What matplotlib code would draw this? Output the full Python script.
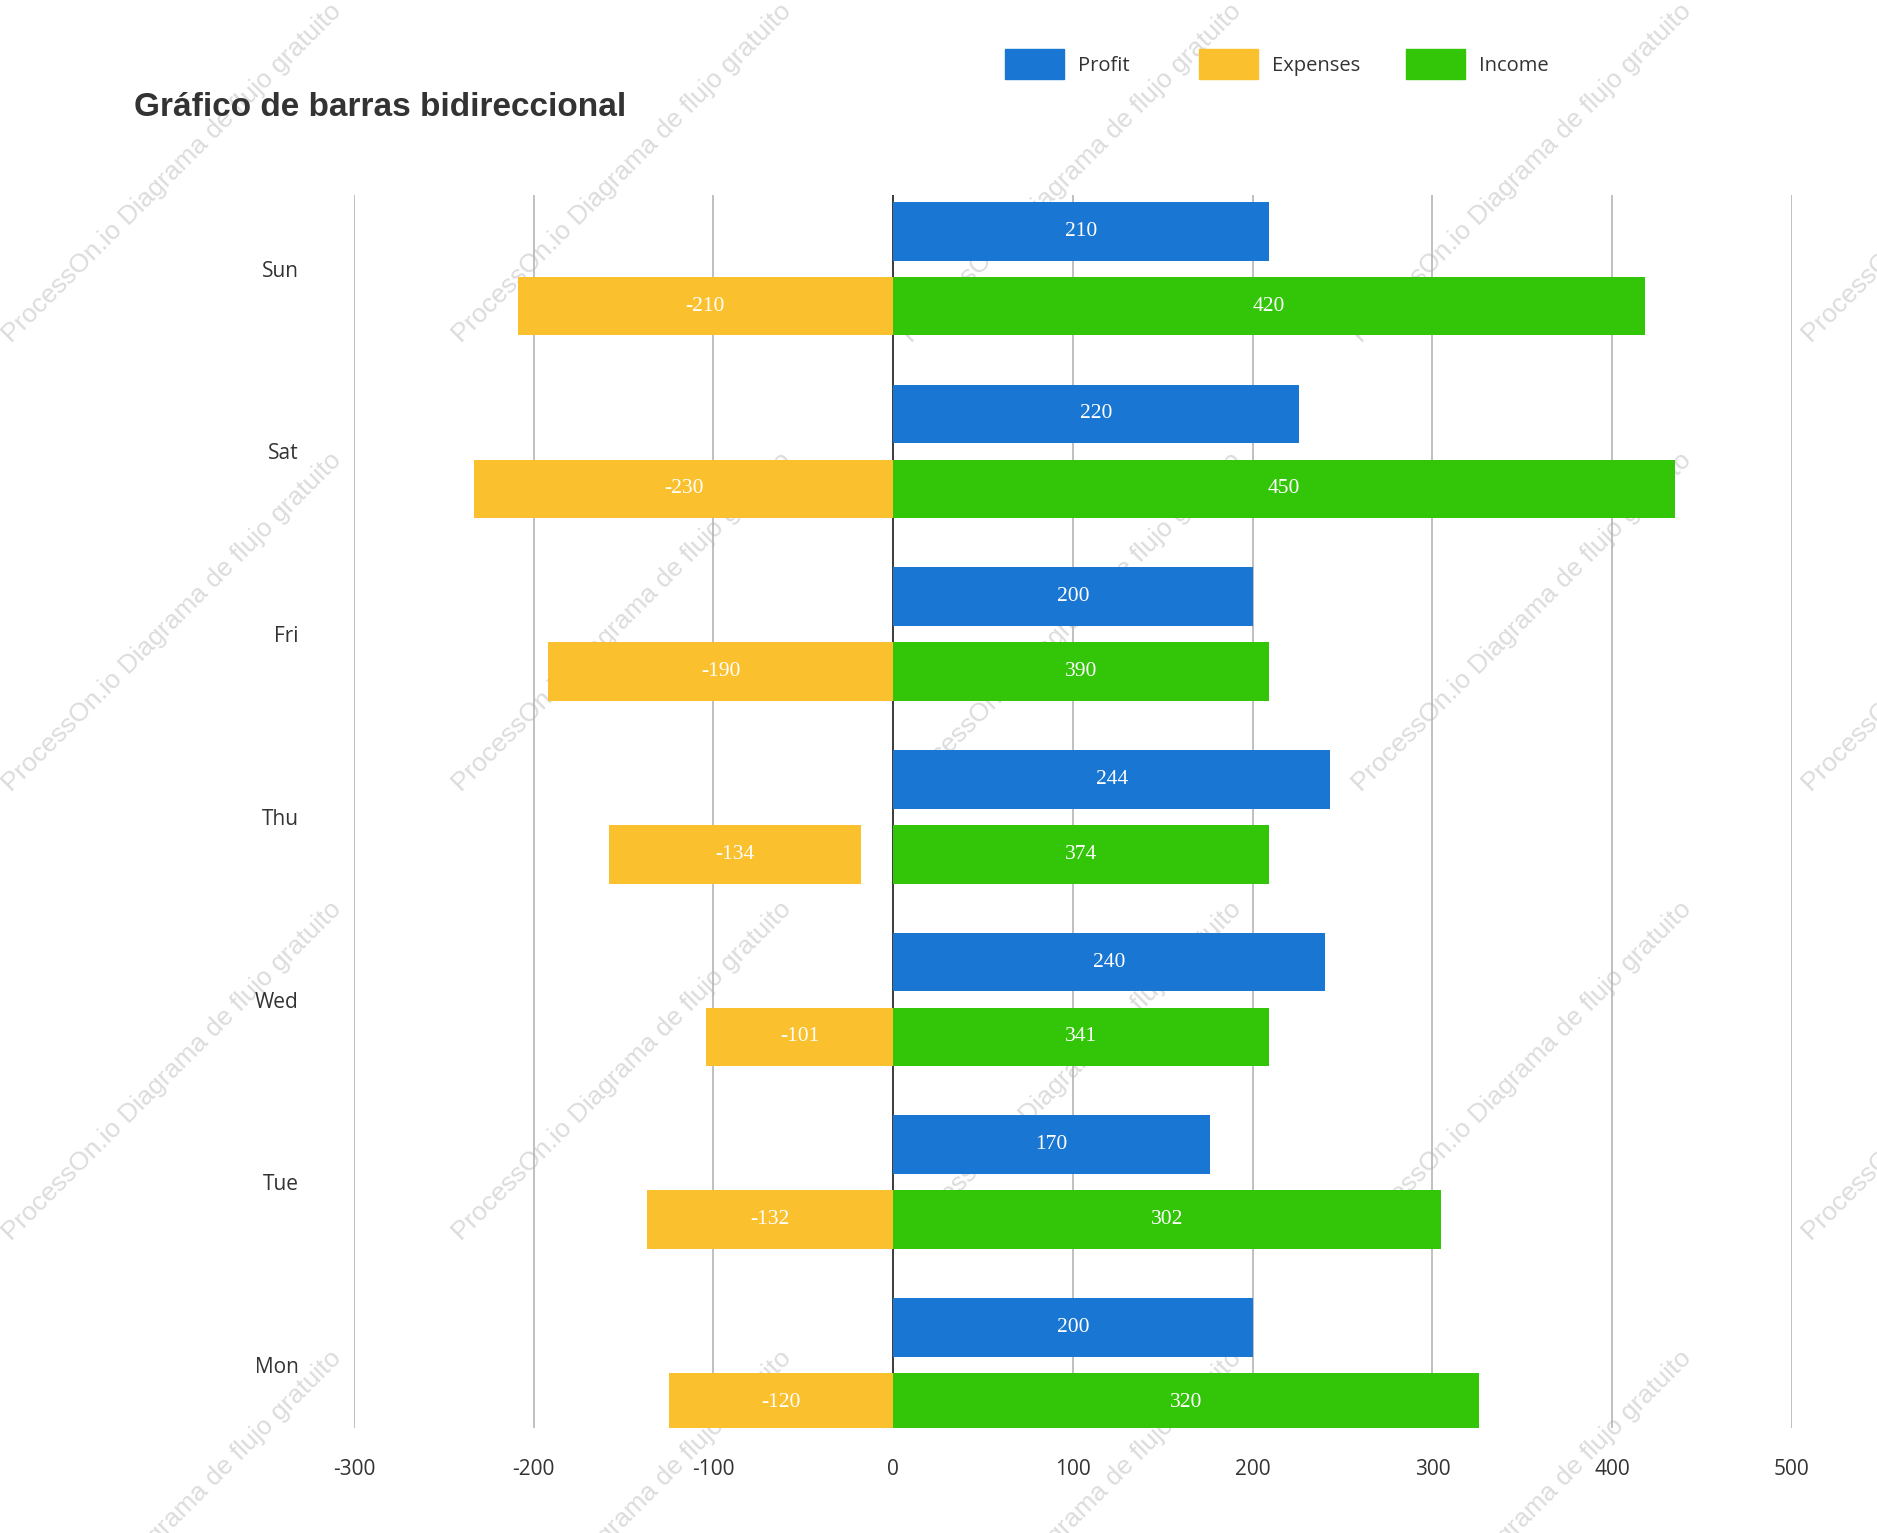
import matplotlib.pyplot as plt
from matplotlib.patches import Rectangle
import numpy as np

# datos del gráfico
dias = ['Mon', 'Tue', 'Wed', 'Thu', 'Fri', 'Sat', 'Sun']
profit = [200, 170, 240, 244, 200, 220, 210]
expenses = [-120, -132, -101, -134, -190, -230, -210]
income = [320, 302, 341, 374, 390, 450, 420]

# longitud de las barras tal como aparecen dibujadas
profit_barra = [200, 176, 240, 243, 200, 226, 209]
expenses_inicio = [0, 0, 0, -18, 0, 0, 0]
expenses_fin = [-125, -137, -104, -158, -192, -233, -209]
income_barra = [326, 305, 209, 209, 209, 435, 418]

ticks_x = [-300, -200, -100, 0, 100, 200, 300, 400, 500]

series = ['Profit', 'Expenses', 'Income']
colores = ['#1976D2', '#FBC02D', '#33C608']
c_profit, c_expenses, c_income = colores

W, H = 1877, 1533
fig = plt.figure(figsize=(W / 100, H / 100), dpi=100)
ax = fig.add_axes([0.1886, 0.0685, 0.7661, 0.8045])
ax.set_facecolor('none')

y = np.arange(len(dias))
alto = 0.321
desp = 0.205

ax.barh(y + desp, profit_barra, height=alto, color=c_profit, zorder=3)
ax.barh(y - desp, np.array(expenses_fin) - np.array(expenses_inicio),
        left=expenses_inicio, height=alto, color=c_expenses, zorder=3)
ax.barh(y - desp, income_barra, height=alto, color=c_income, zorder=3)

fuente_val = dict(color='white', fontsize=15.5, family='Liberation Serif',
                  ha='center', va='center', zorder=4)
for i in range(len(dias)):
    ax.text(profit_barra[i] / 2, y[i] + desp, str(profit[i]), **fuente_val)
    ax.text((expenses_inicio[i] + expenses_fin[i]) / 2, y[i] - desp,
            str(expenses[i]), **fuente_val)
    ax.text(income_barra[i] / 2, y[i] - desp, str(income[i]), **fuente_val)

ax.set_xlim(-300, 500)
ax.set_ylim(-0.345, 6.405)
ax.set_xticks(ticks_x)
ax.set_xticklabels([str(t) for t in ticks_x])
ax.set_yticks(y)
ax.set_yticklabels(dias)
ax.tick_params(axis='x', length=0, pad=22, labelsize=15, labelcolor='#333333')
ax.tick_params(axis='y', length=0, pad=40, labelsize=15, labelcolor='#333333')
for lab in ax.get_xticklabels() + ax.get_yticklabels():
    lab.set_family('Open Sans')
for s in ax.spines.values():
    s.set_visible(False)

ax.xaxis.grid(True, color='#b5b5b5', linewidth=1.2, zorder=1)
ax.set_axisbelow(True)
ax.axvline(0, color='#333333', linewidth=1.3, zorder=2)

fig.text(134 / W, 1 - 108 / H, 'Gráfico de barras bidireccional',
         fontsize=24, fontweight='bold', family='Liberation Sans',
         color='#333333', ha='left', va='center')

# leyenda dibujada a mano (posiciones en píxeles)
leyenda_x = [1005, 1199, 1406]
for nombre, color, x0 in zip(series, colores, leyenda_x):
    fig.add_artist(Rectangle((x0 / W, 1 - 79 / H), 59 / W, 30 / H,
                             transform=fig.transFigure, color=color))
    fig.text((x0 + 73) / W, 1 - 66 / H, nombre, fontsize=14.5,
             family='Open Sans', color='#333333', ha='left', va='center')

# marca de agua
for j in range(4):
    for k in range(5):
        fig.text((172 + 450 * k) / W, 1 - (173 + 449 * j) / H,
                 'ProcessOn.io Diagrama de flujo gratuito', rotation=45,
                 fontsize=19, family='Liberation Sans', color='#dcdcdc',
                 ha='center', va='center', rotation_mode='anchor', zorder=-1)

fig.savefig('out.png', dpi=100)
